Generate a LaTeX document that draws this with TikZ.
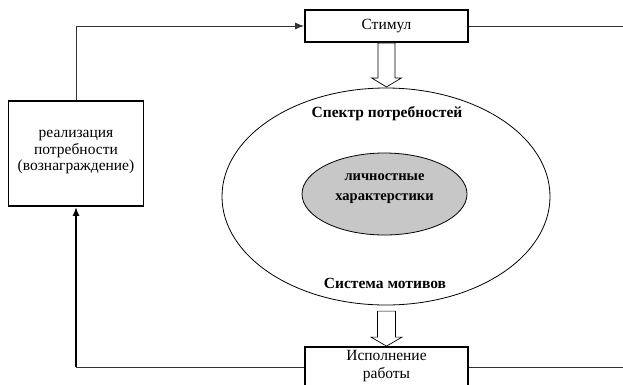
\documentclass[tikz,border=0pt]{standalone}
\usepackage{fontspec}
\setmainfont{Liberation Serif}
\usetikzlibrary{arrows.meta,shapes.geometric,calc}
\begin{document}
\begin{tikzpicture}[x=1pt,y=-1pt,
  boxthick/.style={draw=black,line width=1.8pt,inner sep=0pt},
  conn/.style={draw=black!80,line width=0.9pt},
  connthick/.style={draw=black,line width=2pt},
  blockarrow/.style={draw=black,line width=0.7pt,fill=white},
  normtxt/.style={font=\fontsize{15.5}{16.5}\selectfont,align=center,inner sep=0pt},
  boldtxt/.style={font=\fontsize{15.5}{20}\selectfont\bfseries,align=center,inner sep=0pt},
  tip/.style={-{Latex[length=9pt,width=7pt]}}
]
\useasboundingbox[fill=white] (0,0) rectangle (623,384);
\begin{scope}
\clip (0,0) rectangle (623,384);
% nodes
\node[boxthick,minimum width=163pt,minimum height=32pt] (stim) at (386.5,26) {};
\node[normtxt] (stimtxt) at (386.5,26) {Стимул};
\node[boxthick,minimum width=135pt,minimum height=105pt] (left) at (76,153.5) {};
\node[normtxt] (lefttxt) at (76,152) {реализация\\потребности\\(вознаграждение)};
\node[draw=black,line width=0.8pt,ellipse,minimum width=328pt,minimum height=217pt,inner sep=0pt] (big) at (386,196.5) {};
\node[draw=black,line width=0.8pt,fill=black!22,ellipse,minimum width=165pt,minimum height=82pt,inner sep=0pt] (inner) at (384.5,194) {};
\node[boldtxt,font=\fontsize{14.5}{20}\selectfont\bfseries] (innertxt) at (384.5,189) {личностные\\характерстики};
\node[boldtxt] (spektr) at (387,114) {Спектр потребностей};
\node[boldtxt] (sistema) at (385,283) {Система мотивов};
\node[boxthick,minimum width=163pt,minimum height=40pt] (bot) at (386.5,367) {};
\node[normtxt,font=\fontsize{15.5}{18}\selectfont] (bottxt) at (386.5,366.5) {Исполнение\\работы};
% coordinates
\coordinate (rtop) at (623,26);
\coordinate (rbot) at (623,367);
\coordinate (ctl) at (left.north |- stim.west);
\coordinate (cbl) at (left.south |- bot.west);
% connectors
\draw[conn,tip] (left.north) -- (ctl) -- (stim.west);
\draw[conn] (stim.east) -- (rtop);
\draw[conn] (bot.west) -- (cbl);
\draw[connthick,tip] (cbl) -- (left.south);
\draw[conn] (bot.east) -- (rbot);
% block arrows
\draw[blockarrow] ($(stim.south)+(-8.5,0)$) -- ++(0,35) -- ++(-6.5,0) -- ($(stim.south)+(0,44)$) -- ++(15,-9) -- ++(-6.5,0) -- ++(0,-35) -- cycle;
\draw[blockarrow] ($(bot.north)+(-9,-35)$) -- ++(0,26) -- ++(-6.5,0) -- (bot.north) -- ++(15.5,-9) -- ++(-6.5,0) -- ++(0,-26) -- cycle;
\end{scope}
\end{tikzpicture}
\end{document}
